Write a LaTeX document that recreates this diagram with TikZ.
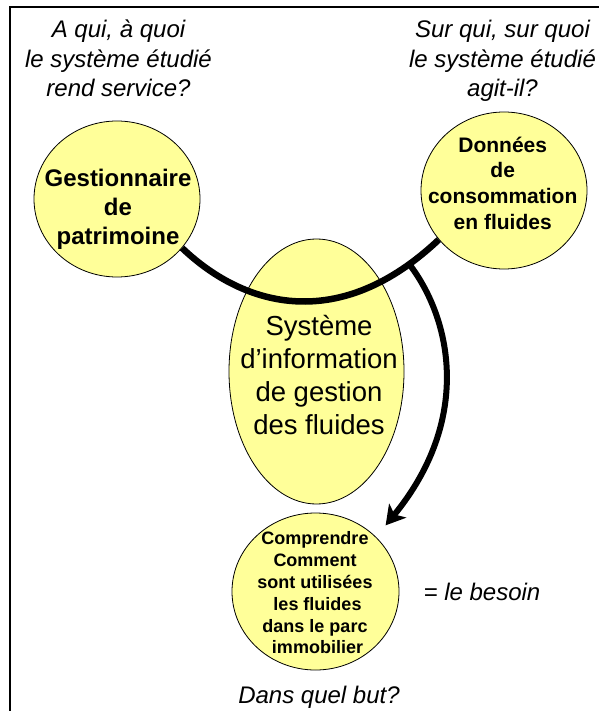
\documentclass[tikz,border=0pt]{standalone}
\usepackage{fontspec}
\setmainfont{Liberation Sans}
\usetikzlibrary{shapes.geometric,arrows.meta}
\definecolor{bub}{HTML}{FFFF99}
\begin{document}
\begin{tikzpicture}[x=1pt,y=-1pt,
  bubble/.style={ellipse,draw=black,line width=0.8pt,fill=bub,inner sep=0pt},
  conn/.style={line width=6.5pt,draw=black},
  qtext/.style={font=\fontsize{24}{29.5}\selectfont\itshape,align=center,inner sep=0pt},
  btext/.style={font=\bfseries,align=center,inner sep=0pt},
  frame/.style={line width=1.5pt}]
\useasboundingbox (0,0) rectangle (599,711);
\draw[frame] (10,711) -- (10,7) -- (599,7);
% bubbles
\node[bubble,minimum width=166pt,minimum height=156pt] (g) at (117,199) {};
\node[bubble,minimum width=166pt,minimum height=157pt] (d) at (504,190.5) {};
\node[bubble,minimum width=175pt,minimum height=265pt] (s) at (316.5,371.5) {};
\node[bubble,minimum width=167pt,minimum height=157pt] (c) at (315.5,591.5) {};
% connectors
\draw[conn] (g.-37) .. controls (245,308) and (340,333) .. (d.-143) coordinate[pos=0.9] (j);
\draw[conn,line width=6pt,-{Stealth[length=19pt,width=22pt,inset=5pt]},shorten >=15pt] (j) .. controls (452,320) and (472,420) .. (c.42);
% texts
\node[qtext] (q1) at (118.5,58.5) {A qui, à quoi\\le système étudié\\rend service?};
\node[qtext] (q2) at (502.5,61) {Sur qui, sur quoi\\le système étudié\\agit-il?};
\node[btext,font=\fontsize{24}{29}\selectfont\bfseries] (gt) at (118,209.5) {Gestionnaire\\de\\patrimoine};
\node[btext,font=\fontsize{21}{25.7}\selectfont\bfseries] (dt) at (502.7,183) {Données\\de\\consommation\\en fluides};
\node[align=center,inner sep=0pt,font=\fontsize{27.5}{33}\selectfont] (st) at (319,374.7) {Système\\d’information\\de gestion\\des fluides};
\node[btext,font=\fontsize{18}{21.8}\selectfont\bfseries] (ct) at (315,593) {Comprendre\\Comment\\sont utilisées\\\ les fluides\\dans le parc\\\ immobilier};
\node[qtext,anchor=base] (b) at (482,600) {= le besoin};
\node[qtext,anchor=base] (but) at (319,703) {Dans quel but?};
\end{tikzpicture}
\end{document}
